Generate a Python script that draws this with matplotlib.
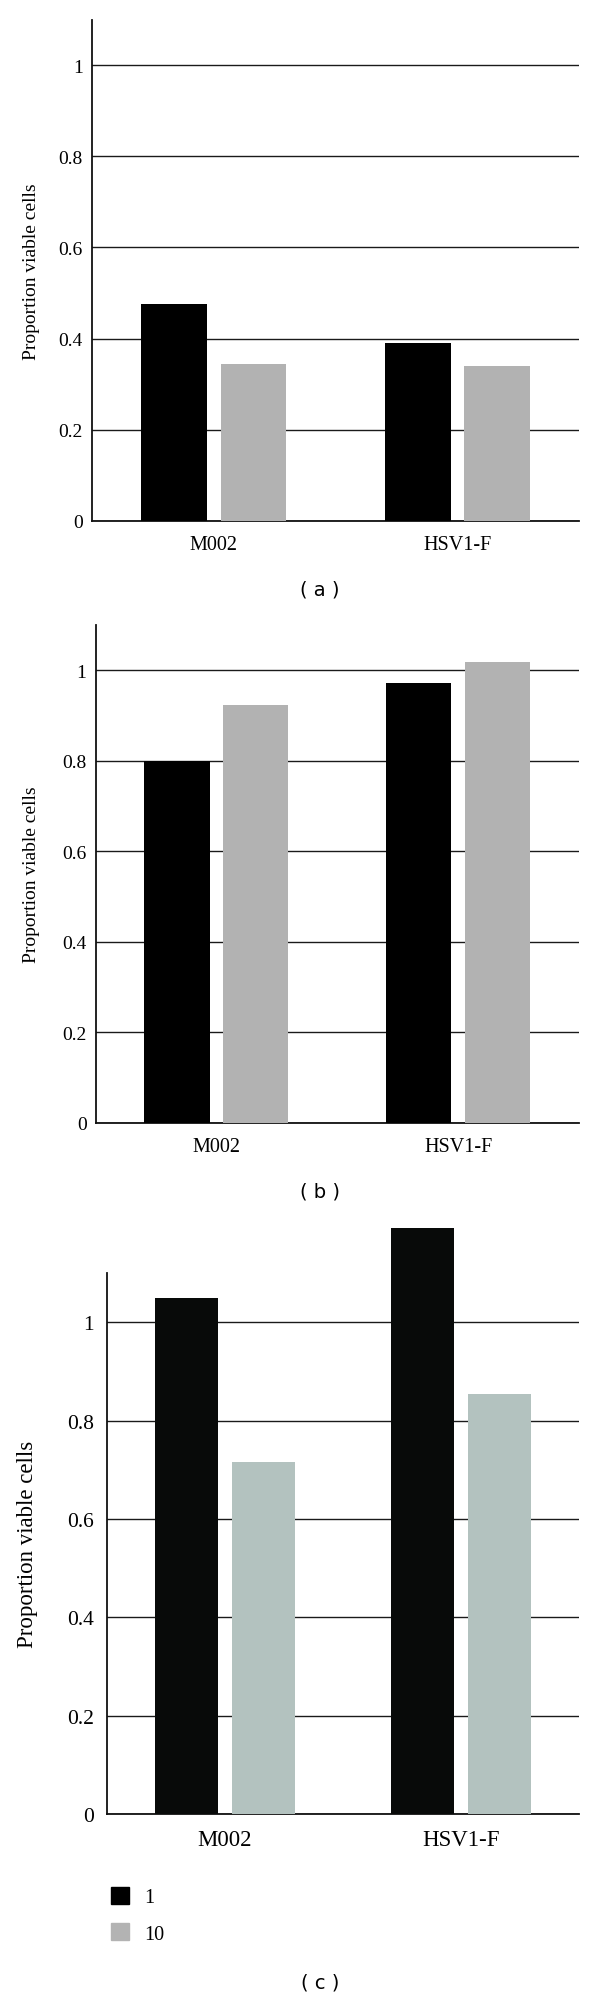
import matplotlib
matplotlib.use('Agg')
import matplotlib.pyplot as plt
from matplotlib.patches import Patch
import numpy as np

# data
groups = ['M002', 'HSV1-F']
yticks = [0, 0.2, 0.4, 0.6, 0.8, 1.0]
ytick_labels = ['0', '0.2', '0.4', '0.6', '0.8', '1']
legend_labels = ['1', '10']

a_dose1 = [0.476, 0.391]
a_dose10 = [0.344, 0.339]

b_dose1 = [0.800, 0.971]
b_dose10 = [0.923, 1.017]

c_dose1 = [1.049, 1.192]
c_dose10 = [0.715, 0.855]

serif = 'Liberation Serif'


def draw_panel(ax, vals1, vals10, col1, col10, tick_fs, lab_fs, xlab_fs, tick_pad, xpad):
    x = np.arange(len(groups))
    w = 0.27
    off = 0.163
    ax.bar(x - off, vals1, w, color=col1, zorder=3, clip_on=False)
    ax.bar(x + off, vals10, w, color=col10, zorder=3, clip_on=False)
    ax.set_xlim(-0.5, 1.5)
    ax.set_ylim(0, 1.1)
    ax.set_yticks(yticks)
    ax.set_yticklabels(ytick_labels, fontfamily=serif, fontsize=tick_fs)
    ax.set_xticks(x)
    ax.set_xticklabels(groups, fontfamily=serif, fontsize=xlab_fs)
    ax.tick_params(axis='both', length=0)
    ax.tick_params(axis='y', pad=tick_pad)
    ax.tick_params(axis='x', pad=xpad)
    ax.yaxis.grid(True, color='#1a1a1a', lw=1.0)
    ax.set_axisbelow(True)
    for s in ['top', 'right']:
        ax.spines[s].set_visible(False)
    for s in ['left', 'bottom']:
        ax.spines[s].set_linewidth(1.3)
        ax.spines[s].set_color('#111111')
    ax.set_ylabel('Proportion viable cells', fontfamily=serif, fontsize=lab_fs)


fig = plt.figure(figsize=(6, 19.99), dpi=100)

ax_a = fig.add_axes([0.1533, 0.739, 0.8125, 0.2506])
draw_panel(ax_a, a_dose1, a_dose10, '#000000', '#b2b2b2', 14, 14, 14.5, 6.5, 10)
ax_a.yaxis.set_label_coords(-0.107, 0.5)

ax_b = fig.add_axes([0.1593, 0.4378, 0.8057, 0.2491])
draw_panel(ax_b, b_dose1, b_dose10, '#000000', '#b2b2b2', 14, 14, 14.5, 6.5, 10)
ax_b.yaxis.set_label_coords(-0.115, 0.5)

ax_c = fig.add_axes([0.1783, 0.0920, 0.7867, 0.2706])
draw_panel(ax_c, c_dose1, c_dose10, '#080a09', '#b3c2bf', 15.5, 16.5, 16.5, 9.5, 11)
ax_c.yaxis.set_label_coords(-0.146, 0.5)

# legend under panel c
handles = [Patch(color='#000000'), Patch(color='#b3b3b3')]
fig.legend(handles, legend_labels, loc='upper left',
           bbox_to_anchor=(111 / 600, 1 - 1888 / 1999),
           frameon=False, prop={'family': serif, 'size': 14.5},
           handlelength=0.9, handleheight=0.9, handletextpad=0.75,
           labelspacing=0.8, borderpad=0, borderaxespad=0)

# panel letters
for lbl, ypix in [('( a )', 590), ('( b )', 1192), ('( c )', 1983)]:
    fig.text(320 / 600, 1 - ypix / 1999, lbl, ha='center', va='center',
             fontfamily='DejaVu Sans', fontsize=14)

fig.savefig('out.png', dpi=100)
